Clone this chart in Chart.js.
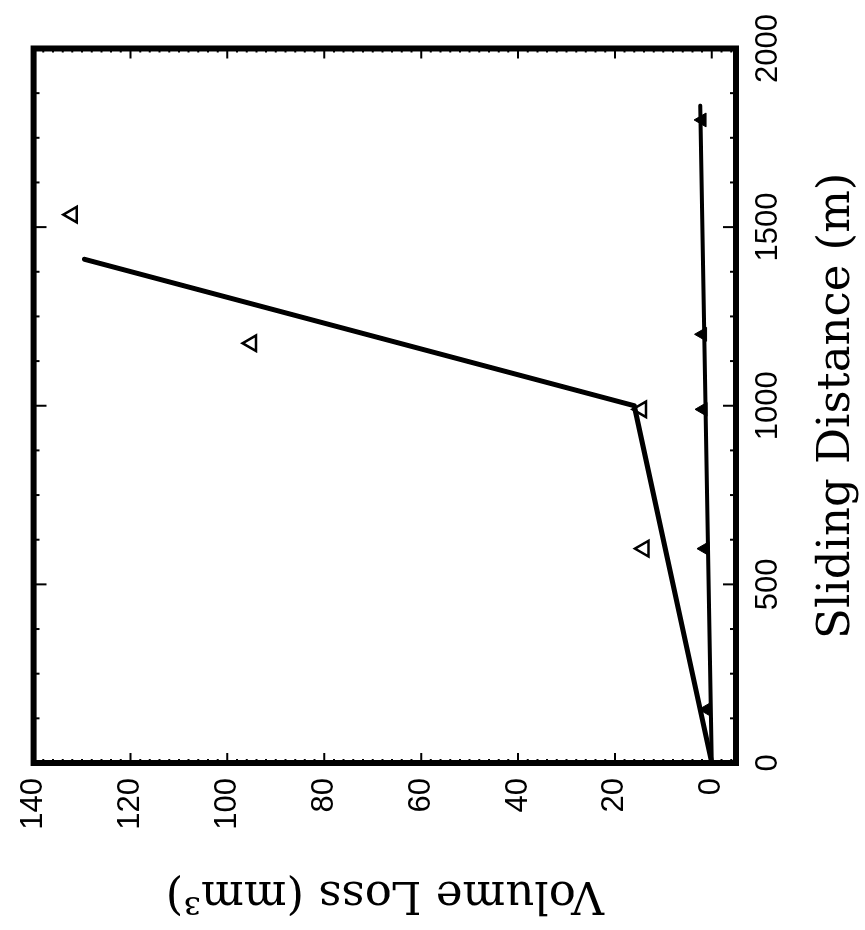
<!DOCTYPE html>
<html>
<head>
<meta charset="utf-8">
<title>Volume Loss vs Sliding Distance</title>
<script src="https://cdn.jsdelivr.net/npm/chart.js@4.4.1/dist/chart.umd.min.js"></script>
<style>
  html, body { margin: 0; padding: 0; background: #fff; overflow: hidden; }
  /* the plot is laid out landscape and then turned a quarter turn */
  #wrap {
    position: absolute;
    left: 0;
    top: 0;
    width: 930px;
    height: 865px;
    transform-origin: 0 0;
    transform: translateY(930px) rotate(-90deg);
  }
</style>
</head>
<body>
<div id="wrap"><canvas id="wearChart" width="930" height="865"></canvas></div>
<script>
// fitted wear lines
const fitDistA = [0, 1000, 1410];
const fitLossA = [0, 16, 129.5];
const fitDistB = [0, 1840];
const fitLossB = [0, 2.4];

// measured points
const markDistA = [600, 990, 1175, 1535];
const markLossA = [14, 14.5, 95, 132];
const markDistB = [150, 600, 990, 1200, 1800];
const markLossB = [1.0, 1.4, 1.8, 1.9, 2.0];

// axis labels
const distTicks = [0, 500, 1000, 1500, 2000];
const lossTicks = [0, 20, 40, 60, 80, 100, 120, 140];

function toPoints(xs, ys) {
  return xs.map((x, i) => ({ x: x, y: ys[i] }));
}

// heavy box round the plot with inward tick marks on every side
const framePlugin = {
  id: 'frame',
  afterDraw(chart) {
    const c = chart.ctx;
    const a = chart.chartArea;
    const xs = chart.scales.x;
    const ys = chart.scales.y;
    c.save();
    c.strokeStyle = '#000';
    c.lineWidth = 2;
    c.beginPath();
    for (let v = 0; v <= 2000; v += 125) {
      const px = xs.getPixelForValue(v);
      const len = v % 500 === 0 ? 13 : 6;
      c.moveTo(px, a.bottom);
      c.lineTo(px, a.bottom - len);
      c.moveTo(px, a.top);
      c.lineTo(px, a.top + len);
    }
    for (let v = -4; v <= 140; v += 2) {
      const py = ys.getPixelForValue(v);
      const len = v % 20 === 0 ? 10 : 4;
      c.moveTo(a.left, py);
      c.lineTo(a.left + len, py);
      c.moveTo(a.right, py);
      c.lineTo(a.right - len, py);
    }
    c.stroke();
    c.lineWidth = 6;
    c.strokeRect(a.left, a.top, a.right - a.left, a.bottom - a.top);
    c.restore();
  }
};

const ctx = document.getElementById('wearChart').getContext('2d');
const wearChart = new Chart(ctx, {
  type: 'scatter',
  data: {
    datasets: [
      {
        data: toPoints(fitDistA, fitLossA),
        showLine: true,
        borderColor: '#000',
        borderWidth: 5,
        pointRadius: 0,
        borderCapStyle: 'round',
        borderJoinStyle: 'round'
      },
      {
        data: toPoints(fitDistB, fitLossB),
        showLine: true,
        borderColor: '#000',
        borderWidth: 4,
        pointRadius: 0,
        borderCapStyle: 'round'
      },
      {
        data: toPoints(markDistA, markLossA),
        pointStyle: 'triangle',
        pointRadius: 9,
        borderWidth: 2.5,
        borderColor: '#000',
        backgroundColor: '#fff'
      },
      {
        data: toPoints(markDistB, markLossB),
        pointStyle: 'triangle',
        pointRadius: 8,
        borderWidth: 1,
        borderColor: '#000',
        backgroundColor: '#000'
      }
    ]
  },
  options: {
    responsive: false,
    animation: false,
    devicePixelRatio: 1,
    layout: { padding: { top: 25, right: 45, bottom: 0, left: 0 } },
    plugins: {
      legend: { display: false },
      tooltip: { enabled: false }
    },
    scales: {
      x: {
        type: 'linear',
        min: 0,
        max: 2000,
        grid: { display: false, drawTicks: false },
        border: { display: false },
        afterBuildTicks: function (scale) {
          scale.ticks = distTicks.map(v => ({ value: v }));
        },
        afterFit: function (scale) {
          scale.height = 129;
        },
        ticks: {
          color: '#000',
          padding: 14,
          maxRotation: 0,
          autoSkip: false,
          font: { family: 'Liberation Sans', size: 31 },
          callback: v => String(v)
        },
        title: {
          display: true,
          text: 'Sliding Distance (m)',
          color: '#000',
          font: { family: 'DejaVu Serif', size: 45 },
          padding: { top: 0, bottom: 1 }
        }
      },
      y: {
        type: 'linear',
        min: -5,
        max: 140,
        grid: { display: false, drawTicks: false },
        border: { display: false },
        afterBuildTicks: function (scale) {
          scale.ticks = lossTicks.map(v => ({ value: v }));
        },
        afterFit: function (scale) {
          scale.width = 167;
        },
        ticks: {
          color: '#000',
          padding: 15,
          font: { family: 'Liberation Sans', size: 31 },
          callback: v => String(v)
        },
        title: {
          display: true,
          text: 'Volume Loss (mm\u00b3)',
          color: '#000',
          font: { family: 'DejaVu Serif', size: 45 },
          padding: { top: 9, bottom: 0 }
        }
      }
    }
  },
  plugins: [framePlugin]
});
</script>
</body>
</html>
